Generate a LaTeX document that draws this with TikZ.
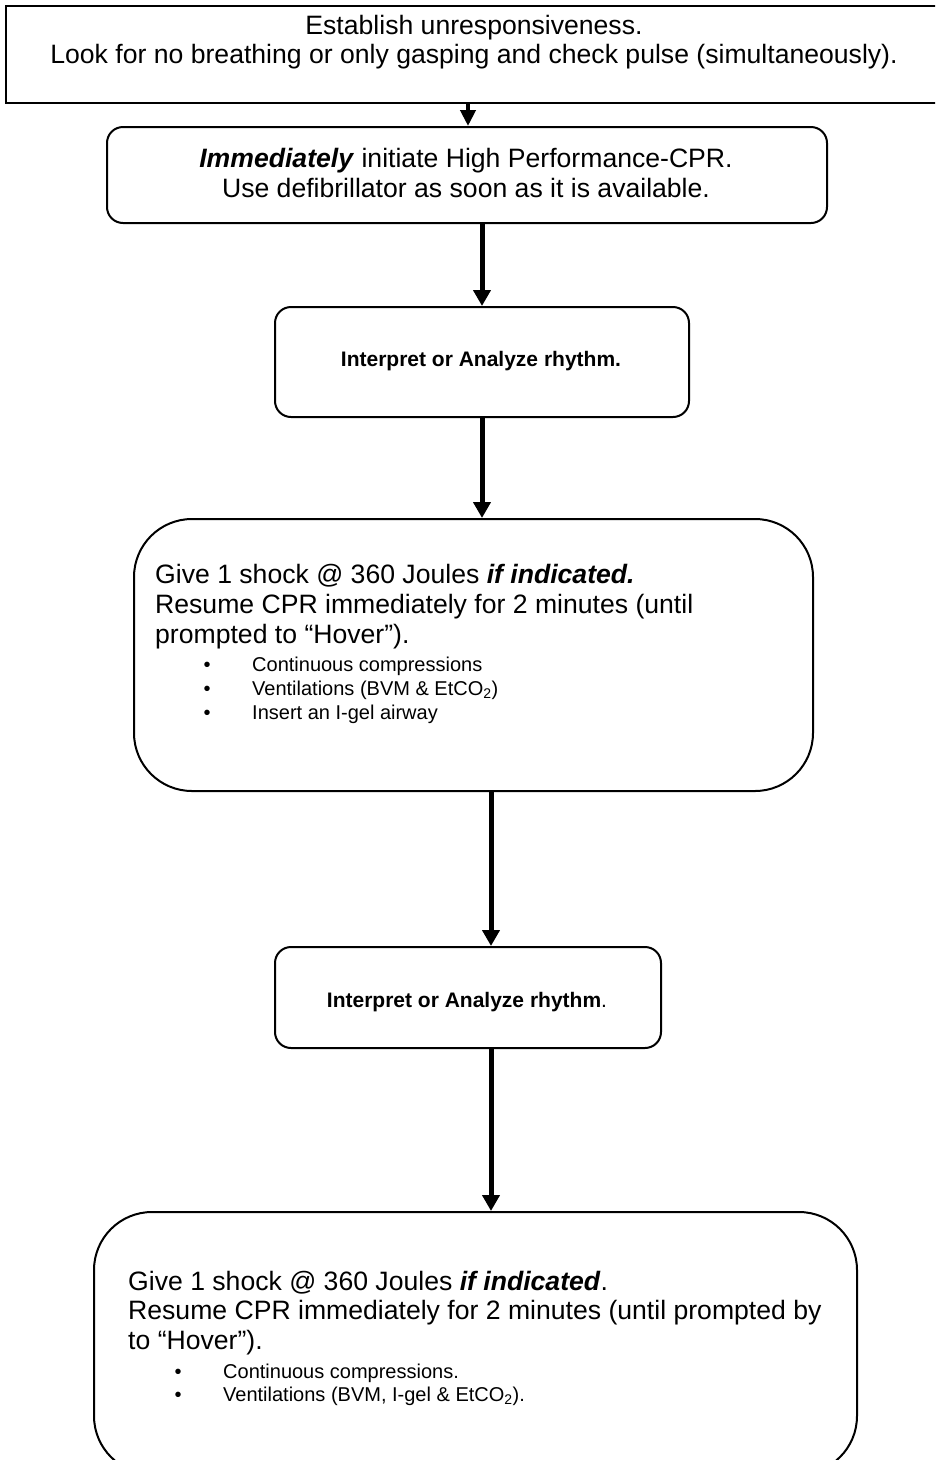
\documentclass[tikz,border=0pt]{standalone}
\usepackage{fontspec}
\setmainfont{Liberation Sans}
\usetikzlibrary{arrows.meta}
\tikzset{
  boxnode/.style={draw, line width=2pt, inner sep=0pt, anchor=north west},
  smallr/.style={rounded corners=16pt},
  bigr/.style={rounded corners=58pt},
  arr/.style={line width=5pt, -{Triangle[width=17pt,length=16pt]}},
  arrthin/.style={line width=4pt, -{Triangle[width=15pt,length=16pt]}},
  big/.style={inner sep=0pt, font=\fontsize{26.6}{30.6}\selectfont},
  small/.style={inner sep=0pt, font=\fontsize{20}{23}\selectfont},
  bold/.style={inner sep=0pt, font=\fontsize{21}{24}\selectfont\bfseries},
}
\begin{document}
\begin{tikzpicture}[x=1pt,y=-1pt]
\useasboundingbox (0,0) rectangle (935,1460);
\clip (0,0) rectangle (935,1460);
\fill[white] (0,0) rectangle (935,1460);
% boxes
\node[boxnode, minimum width=940pt, minimum height=97pt] (b1) at (5,5) {};
\node[boxnode, smallr, minimum width=720pt, minimum height=96pt] (b2) at (106,126) {};
\node[boxnode, smallr, minimum width=414pt, minimum height=110pt] (b3) at (274,306) {};
\node[boxnode, bigr, minimum width=679pt, minimum height=272pt] (b4) at (133,518) {};
\node[boxnode, smallr, minimum width=386pt, minimum height=101pt] (b5) at (274,946) {};
\node[boxnode, bigr, minimum width=763pt, minimum height=262pt] (b6) at (93,1211) {};
% texts
\node[big, anchor=base] (t1a) at (474,34) {Establish unresponsiveness.};
\node[big, anchor=base] (t1b) at (474,63) {Look for no breathing or only gasping and check pulse (simultaneously).};
\node[big, anchor=base] (t2a) at (466,167) {\textbf{\textit{Immediately}} initiate High Performance-CPR.};
\node[big, anchor=base] (t2b) at (466,197) {Use defibrillator as soon as it is available.};
\node[bold, anchor=base] (t3) at (481,366) {Interpret or Analyze rhythm.};
\node[big, anchor=base west] (t4a) at (155,583) {Give 1 shock @ 360 Joules \textbf{\textit{if indicated.}}};
\node[big, anchor=base west] (t4b) at (155,613) {Resume CPR immediately for 2 minutes (until};
\node[big, anchor=base west] (t4c) at (155,643) {prompted to “Hover”).};
\foreach \y/\t [count=\i] in {671/Continuous compressions, 695/Ventilations (BVM \& EtCO\textsubscript{2}), 719/Insert an I-gel airway}{
  \node[small, anchor=base] (d4\i) at (207,\y) {•};
  \node[small, anchor=base west] (s4\i) at (252,\y) {\t};
}
\node[bold, anchor=base] (t5) at (467,1007) {Interpret or Analyze rhythm\textmd{.}};
\node[big, anchor=base west] (t6a) at (128,1290) {Give 1 shock @ 360 Joules \textbf{\textit{if indicated}}.};
\node[big, anchor=base west] (t6b) at (128,1319) {Resume CPR immediately for 2 minutes (until prompted by};
\node[big, anchor=base west] (t6c) at (128,1349) {to “Hover”).};
\foreach \y/\t [count=\i] in {1378/Continuous compressions., 1401/Ventilations (BVM{,} I-gel \& EtCO\textsubscript{2}).}{
  \node[small, anchor=base] (d6\i) at (178,\y) {•};
  \node[small, anchor=base west] (s6\i) at (223,\y) {\t};
}
% connectors
\draw[arrthin] ([xshift=1pt]b2.north |- b1.south) -- ([xshift=1pt]b2.north);
\draw[arr] (b3.north |- b2.south) -- (b3.north);
\draw[arr] (b3.south) -- (b3.south |- b4.north);
\draw[arr] ([xshift=17.5pt]b4.south) -- ([xshift=17.5pt]b4.south |- b5.north);
\draw[arr] ([xshift=23pt]b5.south) -- ([xshift=23pt]b5.south |- b6.north);
\end{tikzpicture}
\end{document}
